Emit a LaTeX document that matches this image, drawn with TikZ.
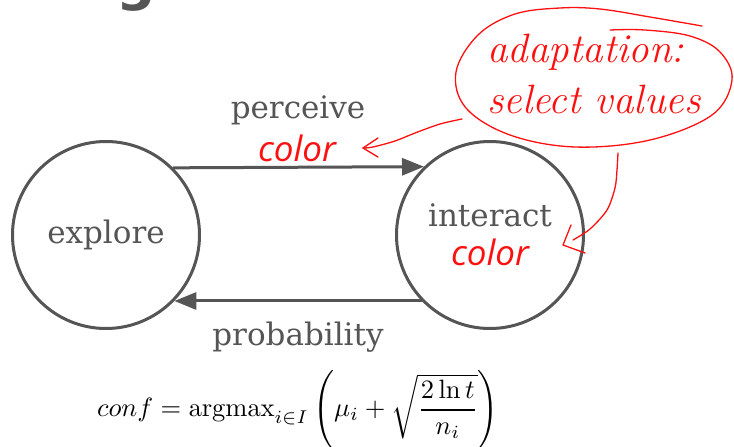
\documentclass[tikz,border=0pt]{standalone}
\usepackage[no-math]{fontspec}
\usetikzlibrary{arrows.meta}
\newfontfamily\serfont{DejaVu Serif}
\newfontfamily\colorfont{Open Sans}
\newfontfamily\titlefont{DejaVu Sans}
\definecolor{gr}{HTML}{555555}
\definecolor{rd}{HTML}{FF1010}
\begin{document}
\begin{tikzpicture}[x=1pt,y=-1pt,
  state/.style={circle,draw=gr,line width=3pt,minimum size=187pt,inner sep=0pt,text=gr,font=\serfont\fontsize{31}{36}\selectfont},
  lbl/.style={text=gr,inner sep=0pt,font=\serfont\fontsize{31}{36}\selectfont},
  redlbl/.style={text=rd,inner sep=0pt,font=\colorfont\itshape\fontsize{35}{40}\selectfont},
  handtxt/.style={text=rd,inner sep=0pt,anchor=base west,font=\rmfamily\itshape\fontsize{41}{48}\selectfont},
  flow/.style={draw=gr,line width=3pt,-{Triangle[length=22pt,width=17pt]}},
  note/.style={draw=rd,line width=1.3pt,line cap=round,line join=round}]
\clip (0,0) rectangle (734,447);
\useasboundingbox (0,0) rectangle (734,447);
% partial title glyph
\node[text=gr,inner sep=0pt,anchor=base,font=\titlefont\bfseries\fontsize{55}{55}\selectfont] (g) at (136,-1) {g};
% states
\node[state] (ex) at (106,235) {explore};
\node[state] (in) at (490,235) {};
\node[lbl] (intxt) at (490,215) {interact};
\node[redlbl] (incol) at (490,252) {color};
% transitions
\draw[flow] (ex.45.7) -- (in.134.3);
\draw[flow] (in.224) -- (ex.316);
\node[lbl] (perc) at (298,110) {perceive};
\node[redlbl] (pcol) at (297,148) {color};
\node[lbl] (prob) at (298,337) {probability};
\node[scale=2.65,inner sep=0pt] (conf) at (298,410) {$\displaystyle conf = \mathrm{argmax}_{i\in I}\left(\mu_i+\sqrt{\frac{2\ln t}{n_i}}\right)$};
% hand-drawn annotation
\draw[note] plot[smooth,tension=0.6] coordinates {(702,26) (650,17) (600,9) (560,8) (515,14) (478,35) (456,72) (466,108) (510,135) (575,147) (650,140) (712,115) (732,80) (720,52) (690,36) (645,30) (610,30)};
\node[handtxt] (ad) at (487,62) {adaptation:};
\node[handtxt] (sv) at (487,113) {select values};
\coordinate (a1s) at (462,119);
\coordinate (a1t) at (363,148);
\draw[note] plot[smooth] coordinates {(a1s) (440,124) (415,133) (395,141) (373,147) (a1t)};
\draw[note] (378,138) -- (a1t) -- (378,157);
\coordinate (a2s) at (618,153);
\coordinate (a2t) at (563,245);
\draw[note] plot[smooth] coordinates {(a2s) (617,170) (615,188) (607,210) (590,229) (573,240)};
\draw[note] (571,225) -- (a2t) -- (585,253);
\end{tikzpicture}
\end{document}
